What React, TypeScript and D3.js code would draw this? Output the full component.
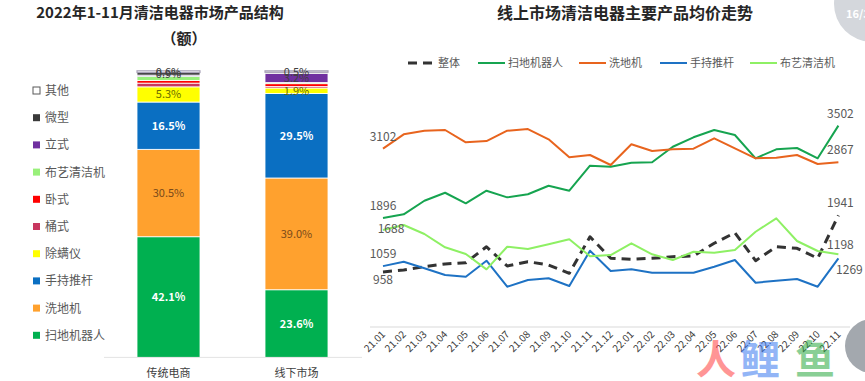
import React from "react";
import * as d3 from "d3";

// ---------- Left chart data ----------
const barCategories = ["传统电商", "线下市场"];
const stackKeys = ["扫地机器人", "洗地机", "手持推杆", "除螨仪", "桶式", "卧式", "布艺清洁机", "立式", "微型", "其他"];
const stackColors = ["#00b050", "#ffa12e", "#0a6fc2", "#ffff00", "#c8375f", "#ff0000", "#99f07a", "#7030a0", "#3a3a3a", "#ffffff"];
const shareOnline = [42.1, 30.5, 16.5, 5.3, 1.3, 0.9, 1.5, 0.4, 0.9, 0.6];
const shareOffline = [23.6, 39.0, 29.5, 1.9, 0.5, 1.0, 0.4, 3.2, 0.4, 0.5];
const legendOrder = ["其他", "微型", "立式", "布艺清洁机", "卧式", "桶式", "除螨仪", "手持推杆", "洗地机", "扫地机器人"];

// ---------- Right chart data ----------
const months = ["21.01", "21.02", "21.03", "21.04", "21.05", "21.06", "21.07", "21.08", "21.09", "21.10", "21.11", "21.12",
  "22.01", "22.02", "22.03", "22.04", "22.05", "22.06", "22.07", "22.08", "22.09", "22.10", "22.11"];
const overall = [958, 991, 1049, 1096, 1118, 1396, 1061, 1136, 1078, 934, 1570, 1195, 1177, 1195, 1223, 1235, 1456, 1640, 1153, 1396, 1369, 1195, 1941];
const robot = [1896, 1960, 2196, 2335, 2151, 2370, 2255, 2308, 2457, 2370, 2805, 2788, 2857, 2864, 3135, 3299, 3426, 3339, 2934, 3090, 3113, 2934, 3502];
const washer = [3102, 3351, 3414, 3426, 3212, 3234, 3414, 3443, 3264, 2951, 2991, 2817, 3177, 3061, 3090, 3101, 3282, 3108, 2934, 2944, 2991, 2835, 2867];
const handheld = [1059, 1136, 1021, 904, 875, 1153, 701, 817, 847, 713, 1327, 974, 1003, 944, 944, 944, 1049, 1165, 770, 805, 835, 701, 1195];
const fabric = [1688, 1774, 1617, 1386, 1270, 1003, 1396, 1356, 1438, 1525, 1232, 1252, 1456, 1264, 1165, 1309, 1292, 1339, 1657, 1890, 1496, 1322, 1264];
const lineNames = ["整体", "扫地机器人", "洗地机", "手持推杆", "布艺清洁机"];
const lineColors = ["#333333", "#16a450", "#e8641e", "#1e72c4", "#8ef064"];
const startLabels = ["958", "1896", "3102", "1059", "1688"];
const endLabels = ["1941", "3502", "2867", "1269", "1198"];

const FONT = "'Noto Sans CJK SC', 'Noto Sans', sans-serif";

export default function App() {
  // Left stacked bars
  const xb = d3.scaleBand<string>().domain(barCategories).range([104.5, 360.5]).paddingInner(0.508).paddingOuter(0.254);
  const yb = d3.scaleLinear().domain([0, 100]).range([357.4, 70.8]);
  const rows = [shareOnline, shareOffline];
  const barData = barCategories.map((c, ci) => {
    const obj: any = { cat: c };
    stackKeys.forEach((k, ki) => (obj[k] = rows[ci][ki]));
    return obj;
  });
  const stacked = d3.stack<any>().keys(stackKeys)(barData);
  const labelColor = (k: string) => {
    if (k === "扫地机器人" || k === "手持推杆") return "#ffffff";
    if (k === "洗地机") return "#7a4a1a";
    if (k === "除螨仪") return "#6b6b00";
    return "#404040";
  };
  const showLabel = (k: string, v: number, di: number) =>
    k === "其他" || v >= 1.9 || (k === "微型" && di === 0);

  // Right line chart
  const xl = d3.scalePoint<string>().domain(months).range([383, 838.4]);
  const yl = d3.scaleLinear().domain([0, 4000]).range([327, 97]);
  const series = [overall, robot, washer, handheld, fabric];
  const line = d3.line<number>().x((_, i) => xl(months[i]) as number).y((d) => yl(d));
  const startOff = [[0, 8], [0, -12], [0, -12], [0, -12], [8, -1]];
  const endOff = [[2, -12], [2, -12], [2, -12], [11, 12], [2, -9]];
  const legendX = [408, 478, 579, 660, 750];

  return (
    <svg width={865} height={381} style={{ position: "absolute", left: 0, top: 0, background: "#fff" }} fontFamily={FONT}>
      {/* Left title */}
      <text x={160} y={18} textAnchor="middle" fontSize={15} fontWeight="bold" fill="#262626">2022年1-11月清洁电器市场产品结构</text>
      <text x={184} y={44} textAnchor="middle" fontSize={15} fontWeight="bold" fill="#262626">（额）</text>

      {/* Left legend */}
      {legendOrder.map((k, i) => {
        const ci = stackKeys.indexOf(k);
        const y = 91 + i * 27.2;
        return (
          <g key={k}>
            <rect x={33} y={y - 4} width={7} height={7} fill={stackColors[ci]} stroke={k === "其他" ? "#595959" : "none"} strokeWidth={1} />
            <text x={45} y={y + 4} fontSize={12} fill="#595959">{k}</text>
          </g>
        );
      })}

      {/* Stacked bars */}
      {stacked.map((layer, li) => (
        <g key={layer.key}>
          {layer.map((d, di) => {
            const x = xb(barCategories[di]) as number;
            const k = layer.key as string;
            return (
              <rect key={di} x={x} y={yb(d[1])} width={xb.bandwidth()} height={Math.max(0, yb(d[0]) - yb(d[1]))}
                fill={stackColors[li]} stroke={k === "其他" ? "#a9a2b8" : "#ffffff"} strokeWidth={k === "其他" ? 1.2 : 0.8} />
            );
          })}
        </g>
      ))}
      {stacked.map((layer, li) => (
        <g key={"l" + layer.key}>
          {layer.map((d, di) => {
            const k = layer.key as string;
            const v = rows[di][li];
            if (!showLabel(k, v, di)) return null;
            const x = (xb(barCategories[di]) as number) + xb.bandwidth() / 2;
            const y = (yb(d[0]) + yb(d[1])) / 2;
            return (
              <text key={di} x={x} y={y + 4} textAnchor="middle" fontSize={11}
                fontWeight={labelColor(k) === "#ffffff" ? "bold" : "normal"} fill={labelColor(k)}>
                {v.toFixed(1)}%
              </text>
            );
          })}
        </g>
      ))}
      <line x1={104} x2={362} y1={357.4} y2={357.4} stroke="#e3e3e3" />
      {barCategories.map((c) => (
        <text key={c} x={(xb(c) as number) + xb.bandwidth() / 2} y={377} textAnchor="middle" fontSize={11} fill="#404040">{c}</text>
      ))}

      {/* Right title */}
      <text x={625} y={19} textAnchor="middle" fontSize={16} fontWeight="bold" fill="#262626">线上市场清洁电器主要产品均价走势</text>

      {/* Right legend */}
      {lineNames.map((n, i) => (
        <g key={n}>
          <line x1={legendX[i]} x2={legendX[i] + 27} y1={63} y2={63} stroke={lineColors[i]}
            strokeWidth={i === 0 ? 3 : 2} strokeDasharray={i === 0 ? "9,6" : undefined} />
          <text x={legendX[i] + 30} y={67} fontSize={11} fill="#595959">{n}</text>
        </g>
      ))}

      {/* axis */}
      <line x1={370} x2={850} y1={yl(0)} y2={yl(0)} stroke="#d9d9d9" />
      {months.map((m) => (
        <text key={m} transform={`translate(${(xl(m) as number) + 3},${yl(0) + 8}) rotate(-45)`} textAnchor="end"
          fontSize={10} fill="#404040">{m}</text>
      ))}

      {/* lines */}
      {series.map((s, i) => (
        <path key={i} d={line(s) || ""} fill="none" stroke={lineColors[i]} strokeWidth={i === 0 ? 3 : 2}
          strokeDasharray={i === 0 ? "9,6" : undefined} strokeLinejoin="round" />
      ))}
      {series.map((s, i) => (
        <g key={"lab" + i}>
          <text x={(xl(months[0]) as number) + startOff[i][0]} y={yl(s[0]) + startOff[i][1] + 4} textAnchor="middle" fontSize={12} fill="#595959">{startLabels[i]}</text>
          <text x={(xl(months[months.length - 1]) as number) + endOff[i][0]} y={yl(s[s.length - 1]) + endOff[i][1] + 4} textAnchor="middle" fontSize={12} fill="#595959">{endLabels[i]}</text>
        </g>
      ))}

      {/* page decorations */}
      <circle cx={872} cy={4} r={38} fill="#d4d7dc" />
      <text x={846} y={18} fontSize={11} fontWeight="bold" fill="#ffffff">16/3</text>
      <circle cx={872} cy={346} r={27} fill="#a3a8ae" />
      <g opacity={0.55} fontWeight="bold" fontSize={40}>
        <text x={696} y={374} fill="#ff4040">人</text>
        <text x={740} y={374} fill="#3a7af0">鲤</text>
        <text x={795} y={374} fill="#2aa840">鱼</text>
      </g>
    </svg>
  );
}
